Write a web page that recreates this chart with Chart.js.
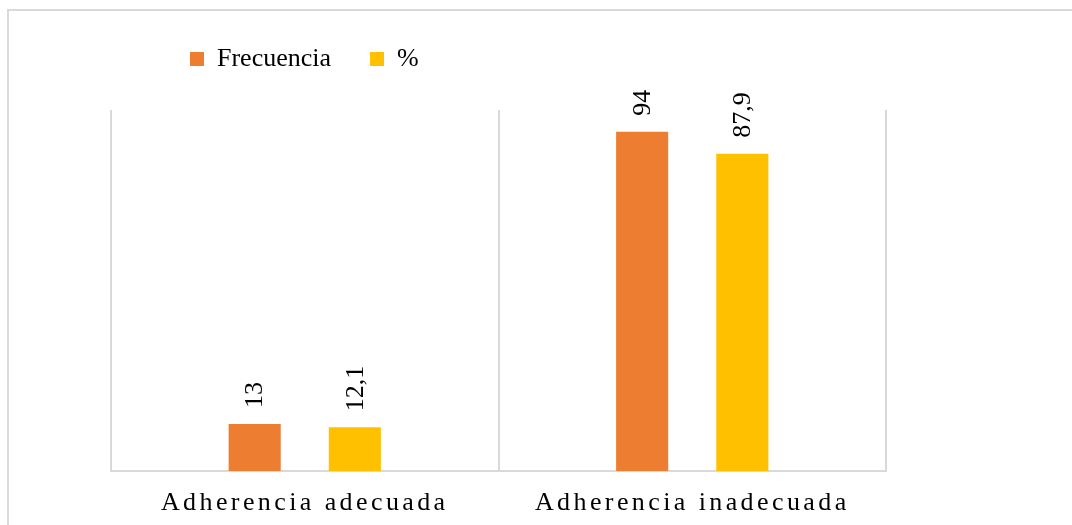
<!DOCTYPE html>
<html lang="es">
<head>
<meta charset="utf-8">
<title>Adherencia</title>
<script src="https://cdn.jsdelivr.net/npm/chart.js@4.4.1/dist/chart.umd.min.js"></script>
<style>
  html, body { margin: 0; padding: 0; background: #fff; overflow: hidden; }
  .frame {
    position: absolute; left: 7px; top: 9px; width: 1100px; height: 540px;
    border-left: 2px solid #d9d9d9; border-top: 2px solid #d9d9d9;
  }
  #adherenciaChart { position: absolute; left: 0; top: 0; }
</style>
</head>
<body>
<div class="frame"></div>
<canvas id="adherenciaChart" width="1072" height="525"></canvas>
<script>
var categorias = ['Adherencia adecuada', 'Adherencia inadecuada'];
var frecuencia = [13, 94];
var porcentaje = [12.1, 87.9];

var serif = '"Liberation Serif", "Times New Roman", serif';

// Valores encima de cada barra, girados 90 grados
var etiquetasBarras = {
    id: 'etiquetasBarras',
    afterDatasetsDraw: function(chart) {
        var ctx = chart.ctx;
        chart.data.datasets.forEach(function(ds, i) {
            chart.getDatasetMeta(i).data.forEach(function(bar, j) {
                ctx.save();
                ctx.translate(bar.x + 1, bar.y - 16);
                ctx.rotate(-Math.PI / 2);
                ctx.font = '26px ' + serif;
                ctx.fillStyle = '#000';
                ctx.textAlign = 'left';
                ctx.textBaseline = 'middle';
                ctx.fillText(String(ds.data[j]).replace('.', ','), 0, 0);
                ctx.restore();
            });
        });
    }
};

// Leyenda arriba a la izquierda, por encima del área del gráfico
var moverLeyenda = {
    id: 'moverLeyenda',
    afterLayout: function(chart) {
        var lg = chart.legend;
        lg.left += 40; lg.right += 40;
        lg.top -= 28; lg.bottom -= 28;
    }
};

// Etiquetas del eje X con espaciado entre letras
var espaciadoEjeX = {
    id: 'espaciadoEjeX',
    beforeDraw: function(chart) {
        var x = chart.scales.x;
        if (x._espaciado) return;
        var dibujar = x.drawLabels;
        x.drawLabels = function(area) {
            this.ctx.save();
            this.ctx.letterSpacing = '3.4px';
            dibujar.call(this, area);
            this.ctx.restore();
        };
        x._espaciado = true;
    }
};

var ctx = document.getElementById('adherenciaChart').getContext('2d');

var adherenciaChart = new Chart(ctx, {
    type: 'bar',
    data: {
        labels: categorias,
        datasets: [{
            label: 'Frecuencia',
            data: frecuencia,
            backgroundColor: '#ED7D31'
        }, {
            label: '%',
            data: porcentaje,
            backgroundColor: '#FFC000'
        }]
    },
    options: {
        responsive: false,
        animation: false,
        categoryPercentage: 0.517,
        barPercentage: 0.52,
        layout: {
            padding: { left: 111, right: 186, top: 35, bottom: 0 }
        },
        plugins: {
            tooltip: { enabled: false },
            legend: {
                position: 'top',
                align: 'start',
                labels: {
                    boxWidth: 14,
                    boxHeight: 14,
                    padding: 39,
                    color: '#000',
                    font: { family: serif, size: 26 }
                }
            }
        },
        scales: {
            x: {
                grid: {
                    display: true,
                    offset: true,
                    drawTicks: false,
                    color: '#d9d9d9',
                    lineWidth: 2
                },
                border: { display: true, color: '#d9d9d9', width: 2 },
                ticks: {
                    color: '#000',
                    padding: 17,
                    font: { family: serif, size: 26 }
                },
                afterFit: function(scale) { scale.height = 54; }
            },
            y: {
                display: false,
                min: 0,
                max: 100
            }
        }
    },
    plugins: [etiquetasBarras, moverLeyenda, espaciadoEjeX]
});
</script>
</body>
</html>
